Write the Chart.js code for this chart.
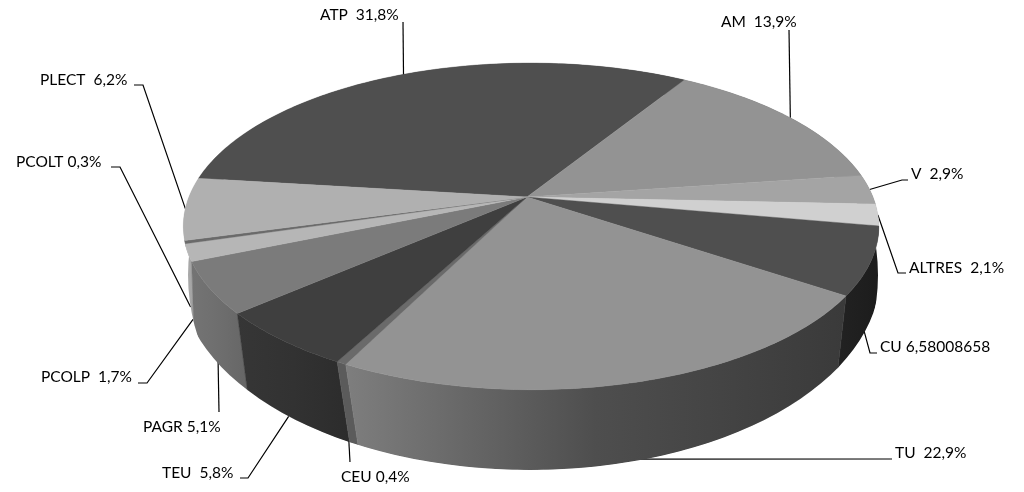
<!DOCTYPE html>
<html>
<head>
<meta charset="utf-8">
<title>Pie</title>
<script src="https://cdn.jsdelivr.net/npm/chart.js@4/dist/chart.umd.js"></script>
<style>
	html, body { margin: 0; padding: 0; background: #fff; }
	canvas { display: block; }
</style>
</head>
<body>
<canvas id="graph" width="1024" height="492"></canvas>
<script>
"use strict";

// data, clockwise, starting from the back left
const categories	= ["ATP", "AM", "V", "ALTRES", "CU", "TU", "CEU", "TEU", "PAGR", "PCOLP", "PCOLT", "PLECT"]
const values		= [31.8, 13.9, 2.9, 2.1, 6.58008658, 22.9, 0.4, 5.8, 5.1, 1.7, 0.3, 6.2]
const value_labels	= ["  31,8%", "  13,9%", "  2,9%", "  2,1%", " 6,58008658", "  22,9%", " 0,4%", "  5,8%", " 5,1%", "  1,7%", " 0,3%", "  6,2%"]

// colours
const top_colors	= ["#4f4f4f", "#939393", "#a4a4a4", "#d0d0d0", "#4f4f4f", "#939393", "#6a6a6a", "#3f3f3f", "#7b7b7b", "#b6b6b6", "#6a6a6a", "#b0b0b0"]
const wall_left		= ["#444444", "#777777", "#888888", "#999999", "#222222", "#7e7e7e", "#5b5b5b", "#363636", "#747474", "#b0b0b0", "#777777", "#b4b4b4"]
const wall_mid		= ["#444444", "#777777", "#888888", "#999999", "#1f1f1f", "#4e4e4e", "#5b5b5b", "#323232", "#6e6e6e", "#a8a8a8", "#777777", "#aeaeae"]
const wall_right	= ["#444444", "#777777", "#888888", "#999999", "#1c1c1c", "#3a3a3a", "#5b5b5b", "#2c2c2c", "#666666", "#a0a0a0", "#777777", "#a8a8a8"]

// projection of the unit disc on the upper and lower face
const top_face		= {x0: 527, y0: 197, a: 342, b: 158, k: 0.18, m: 0.0115}
const bottom_face	= {x0: 530, y0: 255.5, a: 350, b: 193, k: 0.1, m: 0}
// outlines that trim the walls: lower edge, sides, upper face
const outline		= {cx: 530, cy: 275, rx: 350, ry: 195}
const side_outline	= {cx: 533, cy: 275, rx: 345, ry: 260}
const top_outline	= {cx: 531, cy: 226.5, rx: 348, ry: 163.5}

// label layout: text left edge, text centre y, leader elbows, anchor face and nudge
const label_layout = {
	ATP		: {x: 320, y: 15, elbow: [[403, 22]], face: "top", dx: 3},
	AM		: {x: 721, y: 22, elbow: [[789, 30]], face: "top", dx: 0},
	V		: {x: 911, y: 174, elbow: [[902, 180], [908, 180]], face: "top", dx: 0},
	ALTRES	: {x: 909, y: 268, elbow: [[898, 273], [906, 273]], face: "top", dx: 0},
	CU		: {x: 880, y: 347, elbow: [[870, 353], [877, 353]], face: "bottom", dx: -4},
	TU		: {x: 895, y: 453, elbow: [[892, 459]], face: "bottom", dx: 5},
	CEU		: {x: 341, y: 477, elbow: [[350, 462]], face: "bottom", dx: -5},
	TEU		: {x: 162, y: 473, elbow: [[248, 478], [240, 478]], face: "bottom", dx: -5},
	PAGR	: {x: 143, y: 427, elbow: [[219, 412]], face: "bottom", dx: 2},
	PCOLP	: {x: 41, y: 377, elbow: [[147, 383], [138, 383]], face: "bottom", dx: 0},
	PCOLT	: {x: 16, y: 162, elbow: [[120, 167], [111, 167]], face: "bottom", dx: 0},
	PLECT	: {x: 40, y: 80, elbow: [[143, 85], [134, 85]], face: "top", dx: 0}
}

/**
* PROJECT
* Angle of an arc element to a point on one of the faces
*/
const project = function(face, angle) {
	const u = Math.cos(angle)
	const v = Math.sin(angle)
	const w = 1 - face.k * v - face.m * u
	return {
		x : face.x0 + face.a * u / w,
		y : face.y0 + face.b * v / w
	}
}

const trace_face_arc = function(ctx, face, from, to, move) {
	const steps = Math.max(2, Math.ceil(Math.abs(to - from) * 60))
	for (let i = 0; i <= steps; i++) {
		const p = project(face, from + (to - from) * i / steps)
		if (i === 0 && move) {
			ctx.moveTo(p.x, p.y)
		}else{
			ctx.lineTo(p.x, p.y)
		}
	}
}

const clip_with_top = function(ctx, shape) {
	ctx.beginPath()
	ctx.ellipse(shape.cx, shape.cy, shape.rx, shape.ry, 0, 0, Math.PI * 2)
	ctx.moveTo(top_outline.cx + top_outline.rx, top_outline.cy)
	ctx.ellipse(top_outline.cx, top_outline.cy, top_outline.rx, top_outline.ry, 0, 0, Math.PI * 2)
	ctx.clip()
}

const draw_walls = function(ctx, arcs) {
	ctx.save()
	clip_with_top(ctx, outline)
	clip_with_top(ctx, side_outline)

	// back first
	const order = arcs.map((arc, i) => i).sort((a, b) => {
		return Math.sin((arcs[a].startAngle + arcs[a].endAngle) / 2) - Math.sin((arcs[b].startAngle + arcs[b].endAngle) / 2)
	})
	for (const i of order) {
		const arc = arcs[i]
		const p1 = project(top_face, arc.startAngle)
		const p2 = project(top_face, arc.endAngle)
		const q1 = project(bottom_face, arc.startAngle)
		const q2 = project(bottom_face, arc.endAngle)
		const x_min = Math.min(p1.x, p2.x, q1.x, q2.x)
		const x_max = Math.max(p1.x, p2.x, q1.x, q2.x)
		const gradient = ctx.createLinearGradient(x_min, 0, x_max, 0)
		gradient.addColorStop(0, wall_left[i])
		gradient.addColorStop(0.5, wall_mid[i])
		gradient.addColorStop(1, wall_right[i])
		ctx.beginPath()
		trace_face_arc(ctx, top_face, arc.startAngle, arc.endAngle, true)
		trace_face_arc(ctx, bottom_face, arc.endAngle, arc.startAngle, false)
		ctx.closePath()
		ctx.fillStyle = gradient
		ctx.strokeStyle = gradient
		ctx.lineWidth = 0.5
		ctx.fill()
		ctx.stroke()
	}
	ctx.restore()
}

const draw_top = function(ctx, arcs) {
	arcs.forEach((arc, i) => {
		ctx.beginPath()
		ctx.moveTo(top_face.x0, top_face.y0)
		trace_face_arc(ctx, top_face, arc.startAngle, arc.endAngle, false)
		ctx.closePath()
		ctx.fillStyle = top_colors[i]
		ctx.strokeStyle = top_colors[i]
		ctx.lineWidth = 0.4
		ctx.fill()
		ctx.stroke()
	})
}

// leaders go under the pie so they stop at its edge
const draw_leaders = function(ctx, arcs) {
	ctx.strokeStyle = "#000"
	ctx.lineWidth = 1.2
	arcs.forEach((arc, i) => {
		const layout = label_layout[categories[i]]
		const mid = (arc.startAngle + arc.endAngle) / 2
		const anchor = project(layout.face === "top" ? top_face : bottom_face, mid)
		anchor.x += layout.dx
		if (layout.face === "bottom") {
			anchor.y -= 3
			const dy = (anchor.y - side_outline.cy) / side_outline.ry
			const half = side_outline.rx * Math.sqrt(Math.max(0, 1 - dy * dy))
			anchor.x = Math.max(side_outline.cx - half, anchor.x)
		}
		ctx.beginPath()
		ctx.moveTo(anchor.x, anchor.y)
		layout.elbow.forEach(p => ctx.lineTo(p[0], p[1]))
		ctx.stroke()
	})
}

const draw_texts = function(ctx) {
	ctx.font = "15.5px Lato"
	ctx.textAlign = "left"
	ctx.textBaseline = "middle"
	ctx.fillStyle = "#000"
	categories.forEach((name, i) => {
		const layout = label_layout[name]
		ctx.fillText(name + value_labels[i], layout.x, layout.y)
	})
}

// pie drawn in perspective from the angles of the chart arcs
const perspective_pie = {
	id : "perspective_pie",
	beforeDatasetsDraw : function(chart) {
		const arcs = chart.getDatasetMeta(0).data
		draw_leaders(chart.ctx, arcs)
		draw_walls(chart.ctx, arcs)
		draw_top(chart.ctx, arcs)
		draw_texts(chart.ctx)
		return false
	}
}

new Chart(document.getElementById("graph"), {
	type : "pie",
	data : {
		labels : categories,
		datasets : [{
			data : values,
			backgroundColor : top_colors
		}]
	},
	options : {
		responsive : false,
		animation : false,
		rotation : -83,
		plugins : {
			legend : { display: false },
			tooltip : { enabled: false }
		}
	},
	plugins : [perspective_pie]
})
</script>
</body>
</html>
